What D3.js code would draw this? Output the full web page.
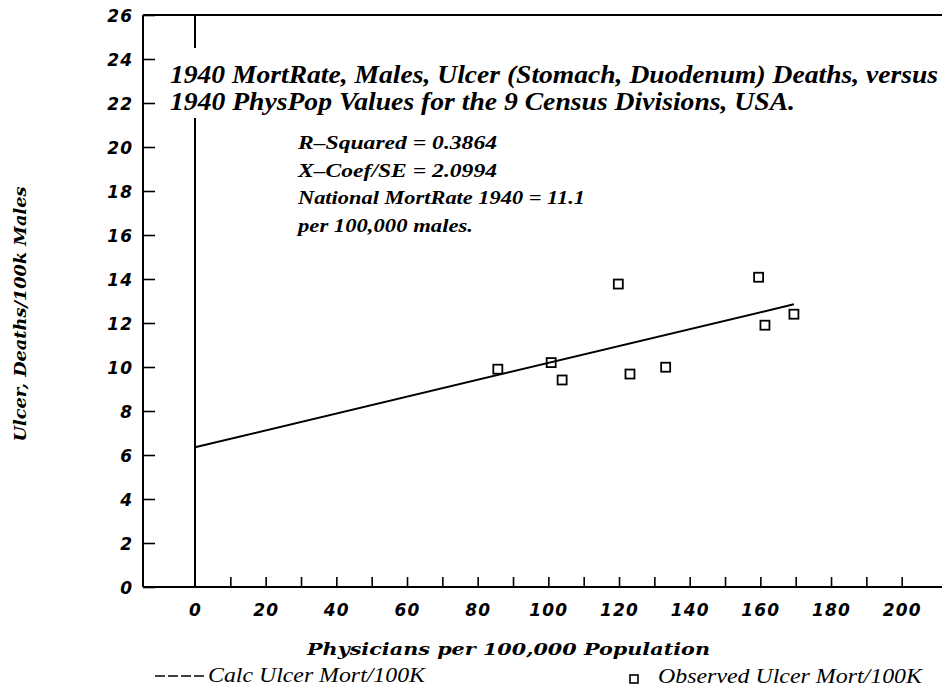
<!DOCTYPE html>
<html><head><meta charset="utf-8">
<script src="https://cdn.jsdelivr.net/npm/d3@7"></script>
<style>body{margin:0;background:#fff}svg{display:block}</style>
</head><body>
<svg id="c" width="942" height="687"></svg>
<script>
// Data
const physPop = [85.7, 100.8, 103.9, 119.8, 123.1, 133.2, 159.5, 161.3, 169.5];
const ulcerMort = [9.9, 10.2, 9.41, 13.77, 9.68, 9.99, 14.08, 11.9, 12.4];
const fitX = [0, 169.5];
const fitY = [6.35, 12.85];
const yTicks = [0,2,4,6,8,10,12,14,16,18,20,22,24,26];
const xTickLabels = [0,20,40,60,80,100,120,140,160,180,200];
const xMinorTicks = [10,20,30,40,50,60,70,80,90,100,110,120,130,140,150,160,170,180,190,200];
const titleLines = ["1940 MortRate, Males, Ulcer (Stomach, Duodenum) Deaths, versus",
                    "1940 PhysPop Values for the 9 Census Divisions, USA."];
const statLines = ["R\u2013Squared = 0.3864","X\u2013Coef/SE = 2.0994","National MortRate 1940 = 11.1","per 100,000 males."];

const svg = d3.select("#c");
const x = d3.scaleLinear().domain([0,200]).range([195, 901.7]);
const y = d3.scaleLinear().domain([0,26]).range([587, 15]);
const L = 143, R = 942;

const sans = "'DejaVu Sans', sans-serif";
const serif = "'Liberation Serif', 'Times New Roman', serif";
const wserif = "'DejaVu Serif', serif";

// Frame
svg.append("line").attr("x1",L).attr("x2",L).attr("y1",y(26)).attr("y2",y(0)).attr("stroke","#000").attr("stroke-width",2);
svg.append("line").attr("x1",L).attr("x2",R).attr("y1",y(26)).attr("y2",y(26)).attr("stroke","#000").attr("stroke-width",2);
svg.append("line").attr("x1",L).attr("x2",R).attr("y1",y(0)).attr("y2",y(0)).attr("stroke","#000").attr("stroke-width",2);

// Y axis ticks
const yAxis = d3.axisLeft(y).tickValues(yTicks).tickSizeInner(-12).tickSizeOuter(0).tickPadding(24);
const gy = svg.append("g").attr("transform",`translate(${L},0)`).call(yAxis);
gy.select(".domain").remove();
gy.selectAll(".tick line").attr("stroke","#000").attr("stroke-width",1.6);
gy.selectAll(".tick text").attr("font-family",sans).attr("font-weight","bold").attr("font-style","italic")
  .attr("font-size",17).attr("fill","#000").attr("letter-spacing",1).attr("x",-10).attr("dy","0.36em");

// X axis ticks
const xAxisTicks = d3.axisBottom(x).tickValues(xMinorTicks).tickSizeInner(-10).tickSizeOuter(0).tickFormat("");
const gx = svg.append("g").attr("transform",`translate(0,${y(0)})`).call(xAxisTicks);
gx.select(".domain").remove();
gx.selectAll(".tick line").attr("stroke","#000").attr("stroke-width",1.6);
const xAxisLab = d3.axisBottom(x).tickValues(xTickLabels).tickSize(0).tickPadding(17).tickFormat(d3.format("d"));
const gxl = svg.append("g").attr("transform",`translate(0,${y(0)})`).call(xAxisLab);
gxl.select(".domain").remove();
gxl.selectAll(".tick text").attr("font-family",sans).attr("font-weight","bold").attr("font-style","italic")
  .attr("font-size",17).attr("fill","#000").attr("letter-spacing",1.2);

// Zero vertical line (broken for title)
svg.append("line").attr("x1",x(0)).attr("x2",x(0)).attr("y1",y(26)).attr("y2",48).attr("stroke","#000").attr("stroke-width",2);
svg.append("line").attr("x1",x(0)).attr("x2",x(0)).attr("y1",118).attr("y2",y(0)).attr("stroke","#000").attr("stroke-width",2);

// Title
const tl = [{t:titleLines[0], y:83, w:768},{t:titleLines[1], y:110, w:625}];
svg.selectAll("text.title").data(tl).enter().append("text").attr("class","title")
  .attr("x",170).attr("y",d=>d.y).attr("font-family",serif).attr("font-style","italic").attr("font-weight","bold")
  .attr("font-size",25).attr("textLength",d=>d.w).attr("lengthAdjust","spacingAndGlyphs").text(d=>d.t);

// Stats
const sl = statLines.map((t,i)=>({t, y:[149,177,204,232][i], w:[199,199,287,175][i]}));
svg.selectAll("text.stat").data(sl).enter().append("text").attr("class","stat")
  .attr("x",298).attr("y",d=>d.y).attr("font-family",serif).attr("font-style","italic").attr("font-weight","bold")
  .attr("font-size",19).attr("textLength",d=>d.w).attr("lengthAdjust","spacingAndGlyphs").text(d=>d.t);

// Fit line
svg.append("path").datum(fitX.map((v,i)=>[v,fitY[i]]))
  .attr("d", d3.line().x(d=>x(d[0])).y(d=>y(d[1])))
  .attr("fill","none").attr("stroke","#000").attr("stroke-width",2);

// Points
const sz = 9;
svg.selectAll("rect.pt").data(physPop.map((v,i)=>[v,ulcerMort[i]])).enter().append("rect").attr("class","pt")
  .attr("x",d=>x(d[0])-sz/2).attr("y",d=>y(d[1])-sz/2).attr("width",sz).attr("height",sz)
  .attr("fill","none").attr("stroke","#000").attr("stroke-width",1.8);

// Axis titles
svg.append("text").attr("x",307).attr("y",655).attr("font-family",wserif).attr("font-style","italic").attr("font-weight","bold")
  .attr("font-size",17).attr("textLength",403).attr("lengthAdjust","spacingAndGlyphs").text("Physicians per 100,000 Population");
svg.append("text").attr("transform","translate(26,314) rotate(-90)").attr("text-anchor","middle")
  .attr("font-family",wserif).attr("font-style","italic").attr("font-weight","bold")
  .attr("font-size",17).attr("textLength",255).attr("lengthAdjust","spacingAndGlyphs").text("Ulcer, Deaths/100k Males");

// Legend
svg.append("line").attr("x1",155).attr("x2",204).attr("y1",676).attr("y2",676).attr("stroke","#000")
  .attr("stroke-width",1.6).attr("stroke-dasharray","10,3");
svg.append("text").attr("x",208).attr("y",682).attr("font-family",serif).attr("font-style","italic")
  .attr("font-size",21).attr("textLength",217).attr("lengthAdjust","spacingAndGlyphs").text("Calc Ulcer Mort/100K");
svg.append("rect").attr("x",634-4).attr("y",679-4).attr("width",8).attr("height",8).attr("fill","none").attr("stroke","#000").attr("stroke-width",1.6);
svg.append("text").attr("x",658).attr("y",683).attr("font-family",serif).attr("font-style","italic")
  .attr("font-size",21).attr("textLength",264).attr("lengthAdjust","spacingAndGlyphs").text("Observed Ulcer Mort/100K");
</script>
</body></html>
